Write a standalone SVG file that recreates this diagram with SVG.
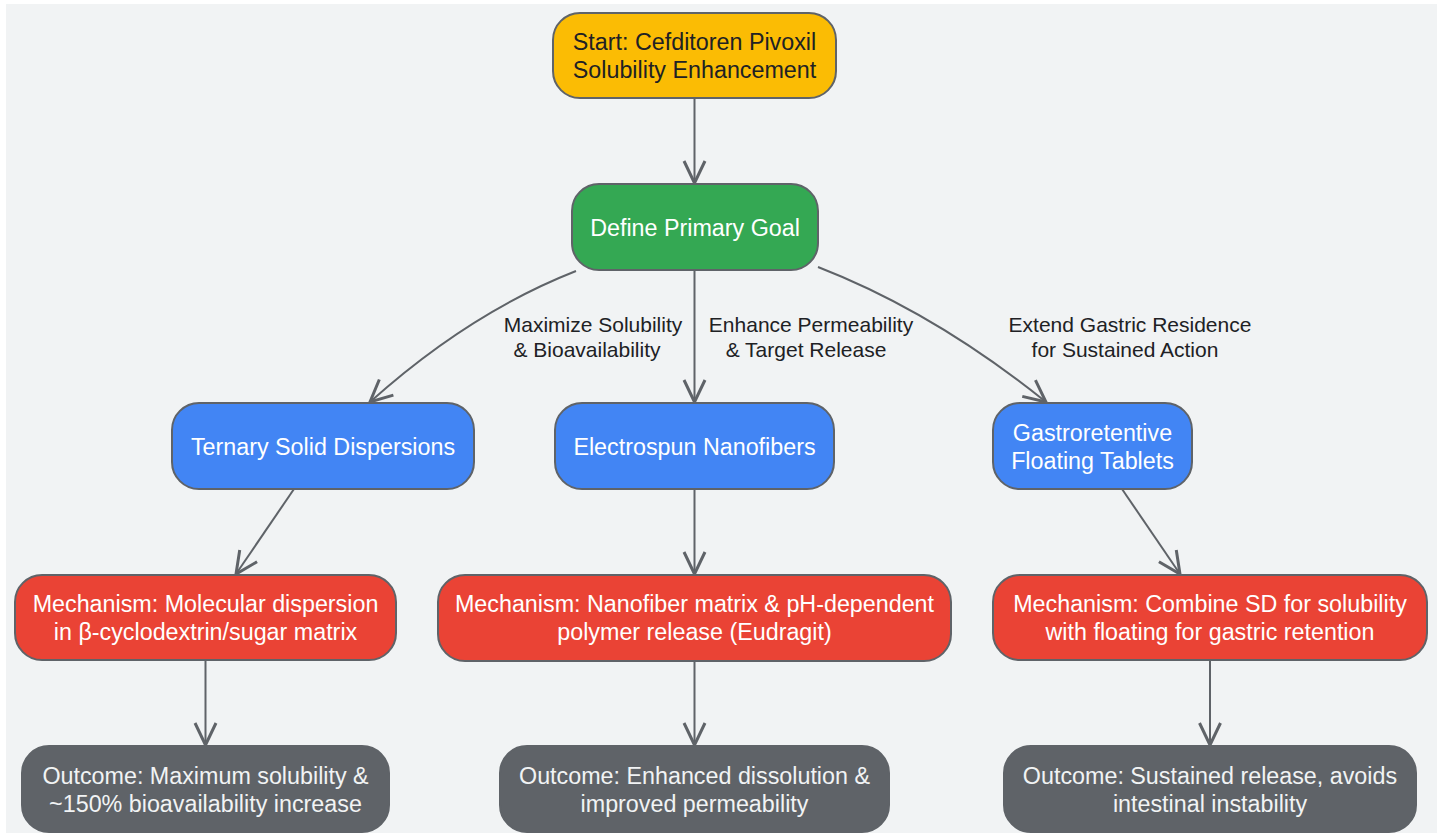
<svg xmlns="http://www.w3.org/2000/svg" width="1443" height="837" viewBox="0 0 1443 837">
<style>
.n rect{stroke:#5f6368;stroke-width:2}
.t{font-family:"Liberation Sans",Arial,sans-serif;font-size:23.3px;text-anchor:middle;fill:#ffffff}
.lbl{font-family:"Liberation Sans",Arial,sans-serif;font-size:21px;text-anchor:middle;fill:#202124}
.e{fill:none;stroke:#5f6368;stroke-width:2;marker-end:url(#arr)}
.start rect{fill:#fbbc04}
.goal rect{fill:#34a853}
.strat rect{fill:#4285f4}
.mech rect{fill:#ea4335}
.out rect{fill:#5f6368}
</style>
<defs>
<marker id="arr" markerUnits="userSpaceOnUse" markerWidth="40" markerHeight="40" viewBox="-30 -20 40 40" refX="0" refY="0" orient="auto" overflow="visible">
<path d="M-22,-10.5 L0,0 L-22,10.5" fill="none" stroke="#5f6368" stroke-width="3"/>
</marker>
</defs>
<rect x="0" y="0" width="1443" height="837" fill="#ffffff"/>
<rect x="6" y="4" width="1431" height="829" fill="#f1f3f4"/>
<g id="connectors">
<path class="e" d="M694.5,98 L694.5,183"/>
<path class="e" d="M576,271 Q469,313 370,402"/>
<path class="e" d="M694.5,270 L694.5,402"/>
<path class="e" d="M818,267 Q934,312 1046,402"/>
<path class="e" d="M294,489 L236,574"/>
<path class="e" d="M694.5,489 L694.5,574"/>
<path class="e" d="M1122,489 L1180,574"/>
<path class="e" d="M205.5,660 L205.5,745"/>
<path class="e" d="M694.5,661 L694.5,745"/>
<path class="e" d="M1210,660 L1210,745"/>
<text class="lbl" x="593" y="332">Maximize Solubility</text>
<text class="lbl" x="587" y="357">&amp; Bioavailability</text>
<text class="lbl" x="811" y="332">Enhance Permeability</text>
<text class="lbl" x="806" y="357">&amp; Target Release</text>
<text class="lbl" x="1130" y="332">Extend Gastric Residence</text>
<text class="lbl" x="1125" y="357">for Sustained Action</text>
</g>
<g id="start" class="n start">
<rect x="553" y="13" width="283" height="85" rx="27"/>
<text class="t" x="694.5" y="50" style="fill:#202124">Start: Cefditoren Pivoxil</text>
<text class="t" x="694.5" y="78" style="fill:#202124">Solubility Enhancement</text>
</g>
<g id="goal" class="n goal">
<rect x="572" y="184" width="246" height="86" rx="27"/>
<text class="t" x="695" y="236">Define Primary Goal</text>
</g>
<g id="ternary" class="n strat">
<rect x="172" y="403" width="302" height="86" rx="27"/>
<text class="t" x="323" y="455">Ternary Solid Dispersions</text>
</g>
<g id="electrospun" class="n strat">
<rect x="555" y="403" width="279" height="86" rx="27"/>
<text class="t" x="694.5" y="455">Electrospun Nanofibers</text>
</g>
<g id="gastro" class="n strat">
<rect x="993" y="403" width="199" height="86" rx="27"/>
<text class="t" x="1092.5" y="440.5">Gastroretentive</text>
<text class="t" x="1092.5" y="468.5">Floating Tablets</text>
</g>
<g id="mech1" class="n mech">
<rect x="15" y="575" width="381" height="85" rx="27"/>
<text class="t" x="205.5" y="612">Mechanism: Molecular dispersion</text>
<text class="t" x="205.5" y="640">in β-cyclodextrin/sugar matrix</text>
</g>
<g id="mech2" class="n mech">
<rect x="438" y="575" width="513" height="86" rx="27"/>
<text class="t" x="694.5" y="612">Mechanism: Nanofiber matrix &amp; pH-dependent</text>
<text class="t" x="694.5" y="640">polymer release (Eudragit)</text>
</g>
<g id="mech3" class="n mech">
<rect x="993" y="575" width="434" height="85" rx="27"/>
<text class="t" x="1210" y="612">Mechanism: Combine SD for solubility</text>
<text class="t" x="1210" y="640">with floating for gastric retention</text>
</g>
<g id="out1" class="n out">
<rect x="22" y="746" width="367" height="86" rx="27"/>
<text class="t" x="205.5" y="784" style="fill:#f1f3f4">Outcome: Maximum solubility &amp;</text>
<text class="t" x="205.5" y="812" style="fill:#f1f3f4">~150% bioavailability increase</text>
</g>
<g id="out2" class="n out">
<rect x="500" y="746" width="389" height="86" rx="27"/>
<text class="t" x="694.5" y="784" style="fill:#f1f3f4">Outcome: Enhanced dissolution &amp;</text>
<text class="t" x="694.5" y="812" style="fill:#f1f3f4">improved permeability</text>
</g>
<g id="out3" class="n out">
<rect x="1004" y="746" width="412" height="86" rx="27"/>
<text class="t" x="1210" y="784" style="fill:#f1f3f4">Outcome: Sustained release, avoids</text>
<text class="t" x="1210" y="812" style="fill:#f1f3f4">intestinal instability</text>
</g>
</svg>
